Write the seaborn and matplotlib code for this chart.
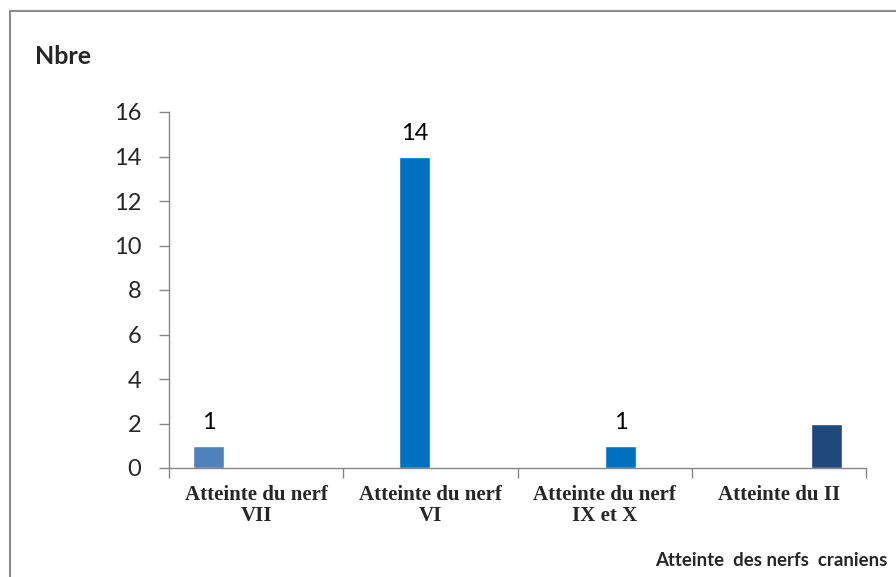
import matplotlib
matplotlib.use("Agg")
import matplotlib.pyplot as plt
from matplotlib.patches import Rectangle
import seaborn as sns
import pandas as pd

# Cranial nerve involvement counts
categories = ["Atteinte du nerf\nVII", "Atteinte du nerf\nVI",
              "Atteinte du nerf\nIX et X", "Atteinte du II"]
counts = [1, 14, 1, 2]
show_value = [True, True, True, False]
bar_colors = ["#4F81BD", "#0070C0", "#0070C0", "#1F497D"]

y_ticks = [0, 2, 4, 6, 8, 10, 12, 14, 16]
y_label = "Nbre"
x_title = "Atteinte  des nerfs  craniens"

df = pd.DataFrame({"categorie": categories, "nombre": counts})

sns.set_theme(style="white")
plt.rcParams["font.family"] = ["Lato", "DejaVu Sans"]

fig = plt.figure(figsize=(8.96, 5.77), dpi=100)
ax = fig.add_axes([169 / 896, 1 - 468 / 577, 697 / 896, 356 / 577])

sns.barplot(data=df, x="categorie", y="nombre", hue="categorie",
            order=categories, hue_order=categories,
            palette=bar_colors, dodge=True, width=0.73, gap=0,
            saturation=1, legend=False, ax=ax)

for container, val, show in zip(ax.containers, counts, show_value):
    ax.bar_label(container, labels=[str(val) if show else ""],
                 padding=9, fontsize=17, color="black")

ax.set_xlim(-0.5, len(categories) - 0.5)
ax.set_ylim(0, 16)
ax.set_yticks(y_ticks)
ax.tick_params(axis="y", which="major", length=7, width=1, color="#868686",
               pad=13, labelsize=17, left=True)
ax.set_xticks(range(len(categories)))
ax.set_xticklabels(categories, fontfamily="Liberation Serif",
                   fontweight="bold", fontsize=15, linespacing=1.1)
ax.set_xticks([i - 0.5 for i in range(len(categories) + 1)], minor=True)
ax.tick_params(axis="x", which="major", length=0, pad=12)
ax.tick_params(axis="x", which="minor", length=7, width=1,
               color="#868686", bottom=True)
ax.set_xlabel("")
ax.set_ylabel("")

for side in ["top", "right"]:
    ax.spines[side].set_visible(False)
for side in ["left", "bottom"]:
    ax.spines[side].set_color("#868686")
    ax.spines[side].set_linewidth(1)

fig.text(35 / 896, 1 - 57 / 577, y_label, fontsize=18, fontweight="bold",
         va="center", ha="left")
fig.text(655 / 896, 1 - 560 / 577, x_title, fontsize=13.4, fontweight="bold",
         va="center", ha="left")

# Chart frame
fig.patches.append(Rectangle((10 / 896, -0.2), 1.2, 1 - 11 / 577 + 0.2,
                             transform=fig.transFigure, fill=False,
                             edgecolor="#8C8C8C", linewidth=1.5,
                             clip_on=False))

fig.savefig("out.png", dpi=100)
